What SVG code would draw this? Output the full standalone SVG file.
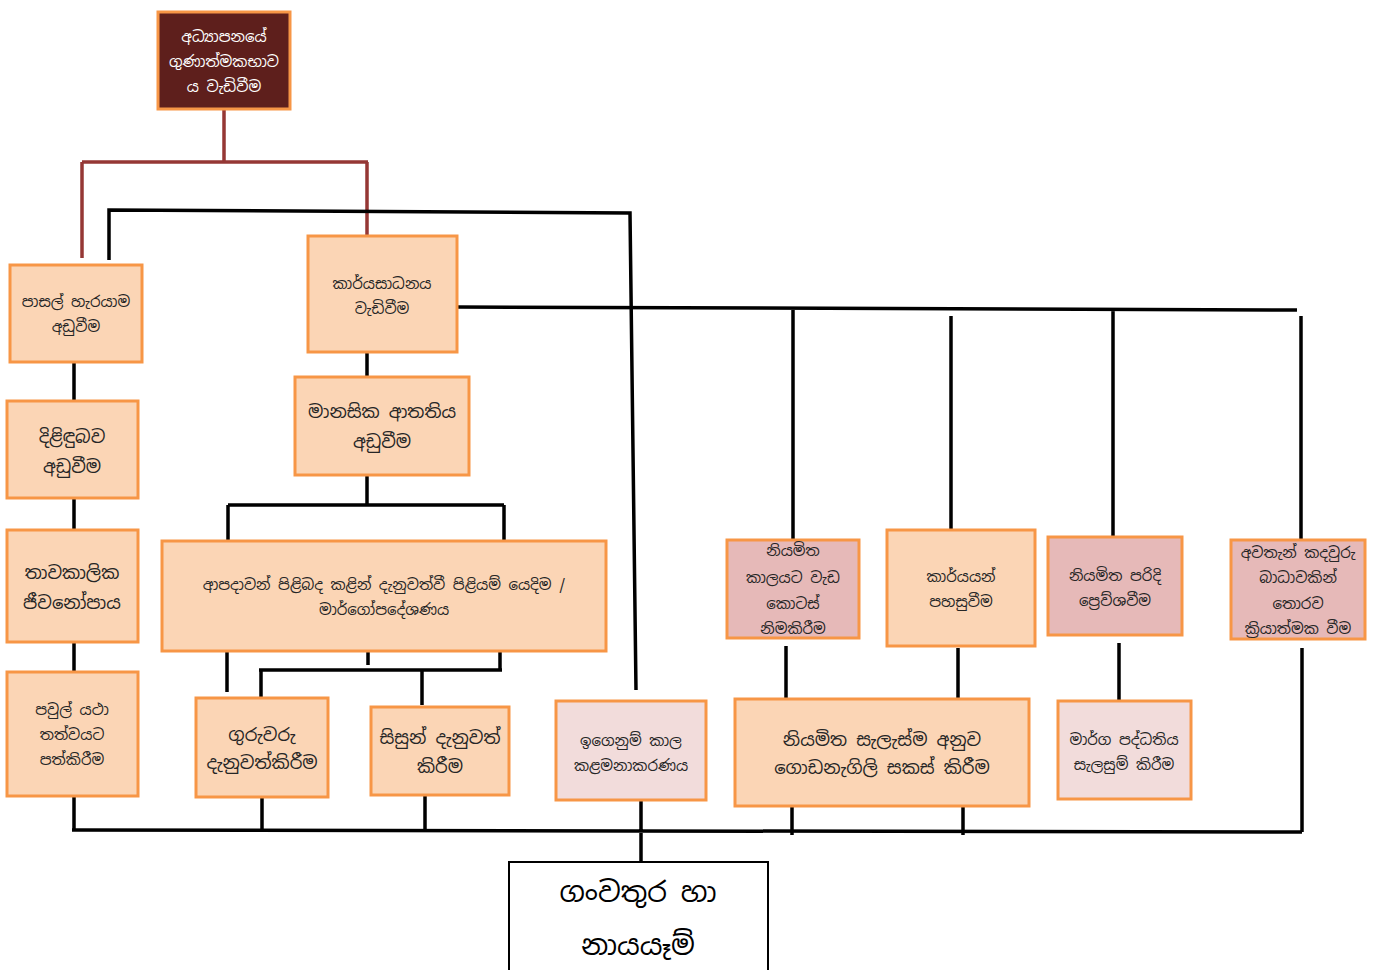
<svg xmlns="http://www.w3.org/2000/svg" width="1373" height="970" viewBox="0 0 1373 970">
<style>
.b{fill:#FBD5B5;stroke:#F79646;stroke-width:3}
.p{fill:#E6B9B8;stroke:#F79646;stroke-width:3}
.l{fill:#F2DCDB;stroke:#F79646;stroke-width:3}
.k{fill:none;stroke:#000;stroke-width:3.5}
.r{fill:none;stroke:#953735;stroke-width:3.5}
text{font-family:"Noto Sans Sinhala","Iskoola Pota","Noto Sans","DejaVu Sans",sans-serif;fill:#262626;text-anchor:middle;font-size:15px}
.w{fill:#fff}
.m{font-size:18px}
.xl{font-size:28px;fill:#000}
</style>
<rect width="1373" height="970" fill="#fff"/>
<g id="connectors">
<path class="r" d="M224 109V162M82 162H368M82 162V258M367 162V236"/>
<path class="k" d="M109 260V210L630 213L636 690"/>
<path class="k" d="M74 362V401M74 498V530M74 642V672M74 796V830"/>
<path class="k" d="M72 830L1302 832M1302 648V832M641 800V862"/>
<path class="k" d="M367 352V377M367 475V505M228 505H504M228 505V541M504 505V541"/>
<path class="k" d="M227 651V692M368 651V665M500 645V670M259 670H502M261 670V698M422 670V705M262 797V830M425 795V830"/>
<path class="k" d="M457 307L1297 310M793 310V540M951 316V530M1113 310V537M1301 316V540"/>
<path class="k" d="M786 646V698M958 648V698M1119 643V700M792 806V835M963 806V835"/>
</g>
<g id="n1"><rect x="158" y="12" width="132" height="97" fill="#5E1F1C" stroke="#F79646" stroke-width="3"/><text class="w" x="224" y="42">අධ්‍යාපනයේ</text><text class="w" x="224" y="67">ගුණාත්මකභාව</text><text class="w" x="224" y="92">ය වැඩිවීම</text></g>
<g id="n2"><rect class="b" x="10" y="265" width="132" height="97"/><text x="76" y="307">පාසල් හැරයාම</text><text x="76" y="332">අඩුවීම</text></g>
<g id="n3"><rect class="b" x="7" y="401" width="131" height="97"/><text class="m" x="72" y="443">දිළිඳුබව</text><text class="m" x="72" y="473">අඩුවීම</text></g>
<g id="n4"><rect class="b" x="7" y="530" width="131" height="112"/><text class="m" x="72" y="579">තාවකාලික</text><text class="m" x="72" y="609">ජීවනෝපාය</text></g>
<g id="n5"><rect class="b" x="7" y="672" width="131" height="124"/><text x="72" y="715">පවුල් යථා</text><text x="72" y="740">තත්වයට</text><text x="72" y="765">පත්කිරීම</text></g>
<g id="n6"><rect class="b" x="308" y="236" width="149" height="116"/><text x="382" y="289">කාර්යසාධනය</text><text x="382" y="314">වැඩිවීම</text></g>
<g id="n7"><rect class="b" x="295" y="377" width="174" height="98"/><text class="m" x="382" y="418">මානසික ආතතිය</text><text class="m" x="382" y="448">අඩුවීම</text></g>
<g id="n8"><rect class="b" x="162" y="541" width="444" height="110"/><text x="384" y="590">ආපදාවන් පිළිබද කළින් දැනුවත්වී පිළියම් යෙදිම /</text><text x="384" y="615">මාර්ගෝපදේශණය</text></g>
<g id="n9"><rect class="b" x="196" y="698" width="132" height="99"/><text class="m" x="262" y="741">ගුරුවරු</text><text class="m" x="262" y="769">දැනුවත්කිරීම</text></g>
<g id="n10"><rect class="b" x="371" y="707" width="138" height="88"/><text class="m" x="440" y="744">සිසුන් දැනුවත්</text><text class="m" x="440" y="773">කිරීම</text></g>
<g id="n11"><rect class="l" x="556" y="701" width="150" height="99"/><text x="631" y="746">ඉගෙනුම් කාල</text><text x="631" y="771">කළමනාකරණය</text></g>
<g id="n12"><rect class="p" x="727" y="540" width="132" height="98"/><text x="793" y="556">නියමිත</text><text x="793" y="583">කාලයට වැඩ</text><text x="793" y="609">කොටස්</text><text x="793" y="634">නිමකිරීම</text></g>
<g id="n13"><rect class="b" x="887" y="530" width="148" height="116"/><text x="961" y="582">කාර්යයන්</text><text x="961" y="607">පහසුවීම</text></g>
<g id="n14"><rect class="p" x="1048" y="537" width="134" height="98"/><text x="1115" y="581">නියමිත පරිදි</text><text x="1115" y="606">ප්‍රෙව්ශවීම</text></g>
<g id="n15"><rect class="p" x="1231" y="540" width="134" height="99"/><text x="1298" y="558">අවතැන් කදවුරු</text><text x="1298" y="583">බාධාවකින්</text><text x="1298" y="609">තොරව</text><text x="1298" y="634">ක්‍රියාත්මක වීම</text></g>
<g id="n16"><rect class="b" x="735" y="699" width="294" height="107"/><text class="m" x="882" y="746">නියමිත සැලැස්ම අනුව</text><text class="m" x="882" y="774">ගොඩනැගිලි සකස් කිරීම</text></g>
<g id="n17"><rect class="l" x="1058" y="701" width="133" height="98"/><text x="1124" y="745">මාර්ග පද්ධතිය</text><text x="1124" y="770">සැලසුම් කිරීම</text></g>
<g id="n18"><rect x="509" y="862" width="259" height="110" fill="#fff" stroke="#000" stroke-width="2"/><text class="xl" x="638" y="902">ගංවතුර හා</text><text class="xl" x="638" y="955">නායයෑම්</text></g>
</svg>
